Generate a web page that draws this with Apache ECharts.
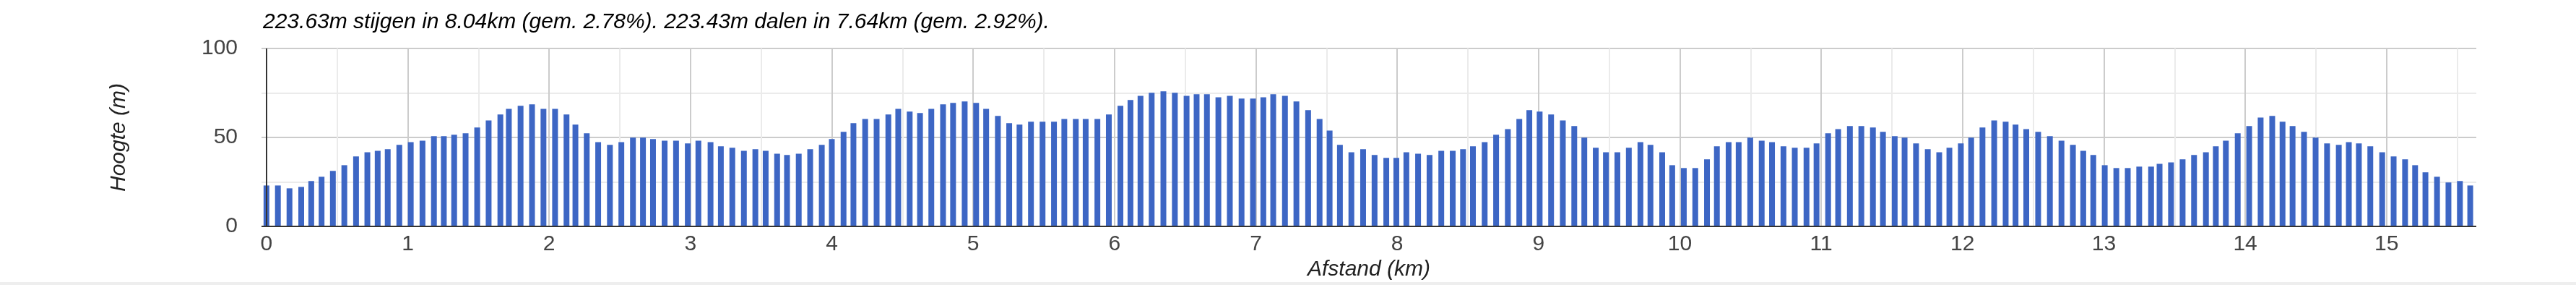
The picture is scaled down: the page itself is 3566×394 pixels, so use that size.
<!DOCTYPE html>
<html>
<head>
<meta charset="utf-8">
<script src="https://cdn.jsdelivr.net/npm/echarts@6/dist/echarts.min.js"></script>
<style>
  html, body { margin: 0; padding: 0; background: #fff; }
  #chart { width: 3566px; height: 394px; }
</style>
</head>
<body>
<div id="chart"></div>
<script>
// Distance along route (km) for each bar
const distanceKm = [
  0, 0.081, 0.163, 0.246, 0.317, 0.390, 0.470, 0.551, 0.634, 0.714,
  0.787, 0.858, 0.940, 1.021, 1.104, 1.185, 1.255, 1.328, 1.409, 1.491,
  1.572, 1.655, 1.715, 1.798, 1.879, 1.960, 2.042, 2.123, 2.186, 2.266,
  2.347, 2.430, 2.511, 2.593, 2.664, 2.735, 2.817, 2.898, 2.981, 3.056,
  3.142, 3.215, 3.296, 3.378, 3.459, 3.532, 3.613, 3.683, 3.766, 3.847,
  3.929, 4.000, 4.083, 4.153, 4.236, 4.317, 4.400, 4.470, 4.551, 4.624,
  4.704, 4.787, 4.858, 4.940, 5.021, 5.092, 5.175, 5.255, 5.328, 5.409,
  5.491, 5.572, 5.645, 5.726, 5.796, 5.879, 5.960, 6.042, 6.113, 6.184,
  6.263, 6.346, 6.427, 6.510, 6.581, 6.654, 6.735, 6.816, 6.899, 6.980,
  7.053, 7.123, 7.206, 7.287, 7.370, 7.451, 7.522, 7.595, 7.676, 7.759,
  7.840, 7.923, 7.994, 8.065, 8.148, 8.229, 8.312, 8.393, 8.466, 8.536,
  8.619, 8.700, 8.783, 8.864, 8.935, 9.008, 9.089, 9.172, 9.253, 9.324,
  9.405, 9.477, 9.558, 9.639, 9.721, 9.792, 9.875, 9.946, 10.028, 10.109,
  10.192, 10.262, 10.345, 10.416, 10.498, 10.579, 10.652, 10.733, 10.813, 10.896,
  10.967, 11.049, 11.120, 11.203, 11.284, 11.366, 11.437, 11.520, 11.590, 11.671,
  11.754, 11.835, 11.907, 11.988, 12.061, 12.141, 12.224, 12.305, 12.375, 12.451,
  12.535, 12.618, 12.700, 12.781, 12.854, 12.925, 13.006, 13.088, 13.169, 13.250,
  13.334, 13.394, 13.475, 13.557, 13.638, 13.722, 13.792, 13.863, 13.947, 14.028,
  14.109, 14.191, 14.264, 14.335, 14.416, 14.498, 14.579, 14.662, 14.733, 14.804,
  14.885, 14.969, 15.050, 15.131, 15.202, 15.275, 15.357, 15.438, 15.519, 15.592
];

// Elevation (m) for each bar
const heightM = [
  23.0, 23.0, 21.4, 22.2, 25.5, 27.9, 31.2, 34.4, 39.3, 41.7,
  42.5, 43.4, 45.8, 47.4, 48.2, 50.7, 50.7, 51.5, 52.3, 55.6,
  59.6, 62.9, 66.1, 67.8, 68.6, 66.1, 66.1, 62.9, 57.2, 52.3,
  47.4, 45.8, 47.4, 49.9, 49.9, 49.1, 48.2, 48.2, 46.6, 48.2,
  47.4, 45.0, 44.2, 42.5, 43.4, 42.5, 40.9, 40.1, 40.9, 43.4,
  45.8, 49.1, 53.1, 58.0, 60.4, 60.4, 62.9, 66.1, 64.5, 63.7,
  66.1, 68.6, 69.4, 70.2, 69.4, 66.1, 62.1, 58.0, 57.2, 58.8,
  58.8, 58.8, 60.4, 60.4, 60.4, 60.4, 62.9, 67.8, 71.0, 73.4,
  75.1, 75.9, 75.1, 73.4, 74.3, 74.3, 72.6, 73.4, 71.8, 71.8,
  72.6, 74.3, 73.4, 70.2, 65.3, 60.4, 53.9, 45.8, 41.7, 43.4,
  40.1, 38.5, 38.5, 41.7, 40.9, 40.1, 42.5, 42.5, 43.4, 45.0,
  47.4, 51.5, 54.7, 60.4, 65.3, 64.5, 62.9, 59.6, 56.4, 49.9,
  44.2, 41.7, 41.7, 44.2, 47.4, 45.8, 41.7, 34.4, 32.8, 32.8,
  37.7, 45.0, 47.4, 47.4, 49.9, 48.2, 47.4, 45.0, 44.2, 44.2,
  46.6, 52.3, 54.7, 56.4, 56.4, 55.6, 53.1, 50.7, 49.9, 46.6,
  43.4, 41.7, 44.2, 46.6, 49.9, 55.6, 59.6, 58.8, 57.2, 54.7,
  53.1, 50.7, 48.2, 45.8, 42.5, 40.1, 34.4, 32.8, 32.8, 33.6,
  33.6, 35.2, 36.0, 37.7, 40.1, 41.7, 45.0, 48.2, 52.3, 56.4,
  61.2, 62.1, 58.8, 56.4, 53.1, 49.9, 46.6, 45.8, 47.4, 46.6,
  45.0, 41.7, 39.3, 37.7, 34.4, 30.4, 27.9, 24.7, 25.5, 23.0
];

const titleText = '223.63m stijgen in 8.04km (gem. 2.78%). 223.43m dalen in 7.64km (gem. 2.92%).';
const xAxisName = 'Afstand (km)';
const yAxisName = 'Hoogte (m)';
const yTickLabels = [0, 50, 100];

const FONT = '"Liberation Sans", Arial, sans-serif';

const chart = echarts.init(document.getElementById('chart'), null, { renderer: 'canvas' });

const seriesData = distanceKm.map((d, i) => [d, heightM[i]]);

chart.setOption({
  animation: false,
  backgroundColor: '#ffffff',
  textStyle: { fontFamily: FONT },
  title: {
    text: titleText,
    left: 364,
    top: 16,
    padding: 0,
    textStyle: { fontFamily: FONT, fontSize: 30, fontStyle: 'italic', fontWeight: 'normal', color: '#000000' }
  },
  graphic: [{
    type: 'rect',
    left: 0,
    top: 390,
    silent: true,
    shape: { width: 3566, height: 4 },
    style: { fill: '#eeeeee' }
  }],
  grid: { left: 362, right: 138, top: 67, bottom: 81, containLabel: false },
  xAxis: {
    type: 'value',
    min: -0.035,
    max: 15.635,
    splitNumber: 16,
    minInterval: 1,
    maxInterval: 1,
    name: xAxisName,
    nameLocation: 'middle',
    nameGap: 43,
    nameTextStyle: { fontFamily: FONT, fontSize: 30, fontStyle: 'italic', color: '#222222' },
    axisLine: { show: false },
    axisTick: { show: false },
    axisLabel: {
      fontFamily: FONT, fontSize: 30, color: '#444444', margin: 10,
      showMinLabel: false, showMaxLabel: false,
      formatter: v => (Math.abs(v - Math.round(v)) < 1e-9 ? String(Math.round(v)) : '')
    },
    splitLine: { show: true, showMinLine: false, showMaxLine: false, lineStyle: { color: '#cccccc', width: 2 } },
    minorTick: { show: false, splitNumber: 2 },
    minorSplitLine: { show: true, lineStyle: { color: '#ebebeb', width: 2 } }
  },
  yAxis: {
    type: 'value',
    min: 0,
    max: 100,
    interval: 50,
    name: yAxisName,
    nameLocation: 'middle',
    nameRotate: 90,
    nameGap: 182,
    nameTextStyle: { fontFamily: FONT, fontSize: 30, fontStyle: 'italic', color: '#222222' },
    axisLine: { show: false },
    axisTick: { show: false },
    axisLabel: {
      fontFamily: FONT, fontSize: 30, color: '#444444', margin: 33,
      formatter: v => (yTickLabels.indexOf(v) >= 0 ? String(v) : '')
    },
    splitLine: { show: true, lineStyle: { color: '#cccccc', width: 2 } },
    minorTick: { show: false, splitNumber: 2 },
    minorSplitLine: { show: true, lineStyle: { color: '#ebebeb', width: 2 } }
  },
  series: [{
    type: 'bar',
    data: seriesData,
    barWidth: 8,
    itemStyle: { color: '#3d66c4' },
    emphasis: { disabled: true },
    markLine: {
      silent: true,
      symbol: 'none',
      label: { show: false },
      lineStyle: { color: '#333333', width: 2, type: 'solid' },
      emphasis: { disabled: true },
      data: [{ xAxis: 0 }, { yAxis: 0 }]
    }
  }]
});
</script>
</body>
</html>
